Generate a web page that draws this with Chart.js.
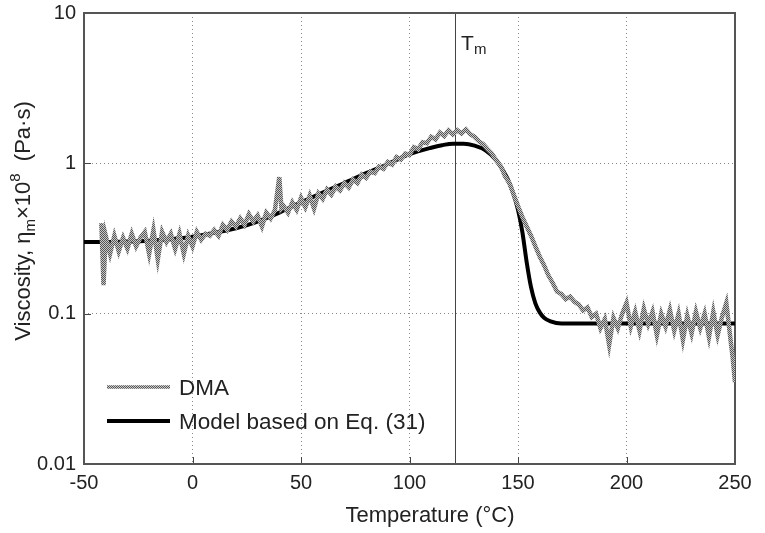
<!DOCTYPE html>
<html>
<head>
<meta charset="utf-8">
<script src="https://cdn.jsdelivr.net/npm/chart.js@4.4.0/dist/chart.umd.min.js"></script>
<style>
  html, body { margin: 0; padding: 0; background: #fff; }
</style>
</head>
<body>
<canvas id="chart" width="765" height="533"></canvas>
<script>
// ==================== DATA ====================

// DMA measurement (temperature in °C, viscosity in 10^8 Pa·s)
const dmaTemps = [
  -42, -41, -40, -38, -36, -34, -32, -30, -28, -26, -24, -22, -20, -18, -16, -14, -12, -10, -8, -6, -4, -2,
  0, 2, 4, 6, 8, 10, 12, 14, 16, 18, 20, 22, 24, 26, 28, 30, 32, 34, 36, 38, 40, 41, 42, 44, 46, 48,
  50, 52, 54, 56, 58, 60, 62, 64, 66, 68, 70, 72, 74, 76, 78, 80, 82, 84, 86, 88, 90, 92, 94, 96, 98,
  100, 102, 104, 106, 108, 110, 112, 114, 116, 118, 120, 122, 124, 126, 128, 130, 132, 134, 136, 138,
  140, 142, 144, 146, 148, 150, 152, 154, 156, 158, 160, 162, 164, 166, 168, 170, 172, 174, 176, 178,
  180, 182, 184, 186, 188, 190, 192, 194, 196, 198, 200, 202, 204, 206, 208, 210, 212, 214, 216, 218,
  220, 222, 224, 226, 228, 230, 232, 234, 236, 238, 240, 242, 244, 246, 248, 249, 250
];
const dmaVisc = [
  0.40, 0.155, 0.33, 0.25, 0.33, 0.26, 0.32, 0.27, 0.34, 0.28, 0.32, 0.35, 0.25, 0.36, 0.23, 0.35, 0.30, 0.34, 0.27, 0.34, 0.25, 0.33,
  0.28, 0.35, 0.31, 0.34, 0.33, 0.36, 0.33, 0.39, 0.36, 0.41, 0.38, 0.43, 0.39, 0.46, 0.41, 0.45, 0.38, 0.47, 0.43, 0.49, 0.81, 0.50, 0.52, 0.47, 0.55, 0.49,
  0.59, 0.51, 0.61, 0.50, 0.63, 0.58, 0.67, 0.62, 0.70, 0.66, 0.74, 0.69, 0.78, 0.74, 0.84, 0.80, 0.88, 0.86, 0.95, 0.92, 1.02, 0.98, 1.10, 1.06, 1.16,
  1.14, 1.28, 1.24, 1.38, 1.36, 1.50, 1.44, 1.60, 1.52, 1.66, 1.56, 1.66, 1.58, 1.68, 1.56, 1.50, 1.40, 1.34, 1.24, 1.16,
  1.04, 0.96, 0.82, 0.74, 0.62, 0.52, 0.44, 0.38, 0.33, 0.28, 0.24, 0.21, 0.18, 0.16, 0.14, 0.135, 0.125, 0.13, 0.12, 0.115,
  0.105, 0.11, 0.095, 0.10, 0.08, 0.092, 0.062, 0.094, 0.08, 0.10, 0.118, 0.082, 0.103, 0.077, 0.108, 0.085, 0.103, 0.072, 0.10, 0.082,
  0.106, 0.077, 0.10, 0.067, 0.097, 0.074, 0.103, 0.08, 0.10, 0.07, 0.103, 0.072, 0.095, 0.118, 0.066, 0.05, 0.035
];

// Model based on Eq. (31)
const modelTemps = [-50, -40, -30, -20, -10, 0, 10, 20, 30, 40, 50, 60, 70, 80, 90, 100, 110, 115, 120, 125, 130, 135,
  140, 145, 148, 150, 152, 154, 156, 158, 160, 162, 165, 170, 180, 250];
const modelVisc = [0.30, 0.30, 0.302, 0.306, 0.313, 0.325, 0.345, 0.37, 0.41, 0.47, 0.55, 0.64, 0.74, 0.86, 0.99, 1.15, 1.27, 1.32, 1.35, 1.35, 1.31, 1.22,
  1.05, 0.80, 0.62, 0.49, 0.35, 0.22, 0.15, 0.117, 0.102, 0.094, 0.089, 0.086, 0.086, 0.086];

const seriesLabels = ['DMA', 'Model based on Eq. (31)'];
const xTickStep = 50;
const yTickValues = [0.01, 0.1, 1, 10];
const tmTemp = 121;

// ==================== STYLE ====================

const FONT = '"Liberation Sans", Arial, sans-serif';
const TEXT = '#222';

function hatchPattern() {
  const c = document.createElement('canvas');
  c.width = 2; c.height = 2;
  const g = c.getContext('2d');
  g.fillStyle = '#c8c8c8';
  g.fillRect(0, 0, 2, 2);
  g.fillStyle = '#555';
  g.fillRect(0, 0, 1, 1);
  g.fillRect(1, 1, 1, 1);
  return g.createPattern(c, 'repeat');
}

function drawRich(ctx, parts, x, y) {
  // parts: [text, size, baselineShift]
  let cx = x;
  parts.forEach(p => {
    ctx.font = p[1] + 'px ' + FONT;
    ctx.fillText(p[0], cx, y + p[2]);
    cx += ctx.measureText(p[0]).width;
  });
  return cx - x;
}

function measureRich(ctx, parts) {
  let w = 0;
  parts.forEach(p => {
    ctx.font = p[1] + 'px ' + FONT;
    w += ctx.measureText(p[0]).width;
  });
  return w;
}

const decorPlugin = {
  id: 'decor',
  beforeDatasetsDraw(chart) {
    const { ctx, chartArea: a, scales } = chart;
    ctx.save();
    ctx.strokeStyle = '#444';
    ctx.lineWidth = 1;
    // Tm line
    const tx = Math.round(scales.x.getPixelForValue(tmTemp)) + 0.5;
    ctx.beginPath();
    ctx.moveTo(tx, a.top);
    ctx.lineTo(tx, a.bottom);
    ctx.stroke();
    // inward ticks
    ctx.beginPath();
    scales.x.ticks.forEach(t => {
      const px = Math.round(scales.x.getPixelForValue(t.value)) + 0.5;
      ctx.moveTo(px, a.bottom);
      ctx.lineTo(px, a.bottom - 7);
    });
    scales.y.ticks.forEach(t => {
      const py = Math.round(scales.y.getPixelForValue(t.value)) + 0.5;
      ctx.moveTo(a.left, py);
      ctx.lineTo(a.left + 7, py);
    });
    ctx.stroke();
    // frame
    ctx.lineWidth = 2;
    ctx.strokeStyle = '#555';
    ctx.strokeRect(a.left, a.top, a.right - a.left, a.bottom - a.top);
    ctx.restore();
  },
  afterDraw(chart) {
    const { ctx, scales } = chart;
    ctx.save();
    ctx.fillStyle = TEXT;
    ctx.textBaseline = 'alphabetic';

    // legend
    const ds = chart.data.datasets;
    const rows = [387, 421];
    ds.forEach((d, i) => {
      ctx.beginPath();
      ctx.strokeStyle = d.borderColor;
      ctx.lineWidth = i === 0 ? 3.5 : d.borderWidth;
      ctx.moveTo(107, rows[i]);
      ctx.lineTo(170, rows[i]);
      ctx.stroke();
      ctx.font = '22.5px ' + FONT;
      ctx.fillText(d.label, 179, rows[i] + 8);
    });

    // Tm label
    const tx = scales.x.getPixelForValue(tmTemp);
    drawRich(ctx, [['T', 21, 0], ['m', 15, 4]], tx + 6, 50);

    // x title
    ctx.font = '22px ' + FONT;
    ctx.textAlign = 'center';
    ctx.fillText('Temperature (°C)', 430, 522);
    ctx.textAlign = 'left';

    // y title
    const parts = [['Viscosity, η', 22, 0], ['m', 15, 5], ['×10', 22, 0], ['8', 15, -10], ['  (Pa·s)', 22, 0]];
    const w = measureRich(ctx, parts);
    ctx.translate(30, 221);
    ctx.rotate(-Math.PI / 2);
    drawRich(ctx, parts, -w / 2, 0);
    ctx.restore();
  }
};

// ==================== CHART ====================

const dmaPoints = dmaTemps.map((t, i) => ({ x: t, y: dmaVisc[i] }));
const modelPoints = modelTemps.map((t, i) => ({ x: t, y: modelVisc[i] }));

const gridColor = ctx => {
  const v = ctx.tick ? ctx.tick.value : null;
  const s = ctx.scale;
  if (v === s.min || v === s.max) return 'rgba(0,0,0,0)';
  return '#8a8a8a';
};

new Chart(document.getElementById('chart').getContext('2d'), {
  type: 'line',
  data: {
    datasets: [
      {
        label: seriesLabels[0],
        data: dmaPoints,
        borderColor: hatchPattern(),
        borderWidth: 4.5,
        pointRadius: 0,
        tension: 0,
        fill: false
      },
      {
        label: seriesLabels[1],
        data: modelPoints,
        borderColor: '#000',
        borderWidth: 4,
        pointRadius: 0,
        tension: 0.4,
        cubicInterpolationMode: 'monotone',
        fill: false
      }
    ]
  },
  options: {
    responsive: false,
    animation: false,
    layout: { padding: { top: 13, right: 30, left: 0, bottom: 0 } },
    plugins: {
      legend: { display: false },
      tooltip: { enabled: false }
    },
    scales: {
      x: {
        type: 'linear',
        min: -50,
        max: 250,
        afterFit: s => { s.height = 69; },
        ticks: {
          stepSize: xTickStep,
          color: TEXT,
          padding: 7,
          maxRotation: 0,
          font: { family: FONT, size: 20 }
        },
        grid: { color: gridColor, lineWidth: 1, drawTicks: false },
        border: { display: false, dash: [1, 3] }
      },
      y: {
        type: 'logarithmic',
        min: 0.01,
        max: 10,
        afterFit: s => { s.width = 84; s.paddingTop = 0; s.paddingBottom = 0; },
        afterBuildTicks: s => { s.ticks = yTickValues.map(v => ({ value: v })); },
        ticks: {
          color: TEXT,
          padding: 8,
          font: { family: FONT, size: 20 },
          callback: v => String(v)
        },
        grid: { color: gridColor, lineWidth: 1, drawTicks: false },
        border: { display: false, dash: [1, 3] }
      }
    }
  },
  plugins: [decorPlugin]
});
</script>
</body>
</html>
